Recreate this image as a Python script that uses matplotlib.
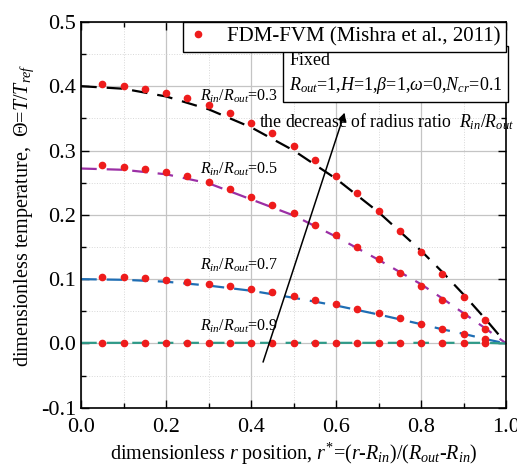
"""Dimensionless temperature along r* for several radius ratios, with FDM-FVM reference points."""

import matplotlib

matplotlib.use("Agg")
import matplotlib.pyplot as plt
from matplotlib.offsetbox import AnchoredText
from matplotlib.ticker import MultipleLocator

plt.rcParams["font.family"] = ["Liberation Serif", "DejaVu Serif"]
plt.rcParams["mathtext.fontset"] = "custom"
plt.rcParams["mathtext.rm"] = "Liberation Serif"
plt.rcParams["mathtext.it"] = "Liberation Serif:italic"

# present solution (dashed lines)
line_x = [0.0, 0.1, 0.2, 0.3, 0.4, 0.5, 0.6, 0.7, 0.8, 0.85, 0.9, 0.95, 1.0]
line_03 = [0.400, 0.396, 0.384, 0.364, 0.336, 0.300, 0.256, 0.204, 0.144, 0.111, 0.076, 0.039, 0.0]
line_05 = [0.272, 0.270, 0.263, 0.249, 0.224, 0.199, 0.166, 0.130, 0.092, 0.070, 0.047, 0.024, 0.0]
line_07 = [0.100, 0.099, 0.096, 0.090, 0.082, 0.071, 0.059, 0.045, 0.030, 0.022, 0.015, 0.007, 0.0]
line_09 = [0.001, 0.001, 0.001, 0.001, 0.001, 0.001, 0.001, 0.001, 0.001, 0.001, 0.001, 0.001, 0.0]

# FDM-FVM (Mishra et al., 2011)
ref_x = [0.05, 0.10, 0.15, 0.20, 0.25, 0.30, 0.35, 0.40, 0.45, 0.50,
         0.55, 0.60, 0.65, 0.70, 0.75, 0.80, 0.85, 0.90, 0.95]
ref_03 = [0.403, 0.401, 0.396, 0.390, 0.381, 0.371, 0.358, 0.343, 0.327, 0.307,
          0.285, 0.260, 0.234, 0.206, 0.175, 0.142, 0.108, 0.072, 0.036]
ref_05 = [0.277, 0.275, 0.272, 0.267, 0.260, 0.251, 0.240, 0.228, 0.216, 0.203,
          0.184, 0.168, 0.150, 0.131, 0.109, 0.089, 0.067, 0.045, 0.022]
ref_07 = [0.104, 0.103, 0.102, 0.099, 0.096, 0.093, 0.089, 0.085, 0.080, 0.074,
          0.067, 0.061, 0.054, 0.047, 0.039, 0.031, 0.023, 0.015, 0.007]
ref_09 = [0.0] * 19

ratios = ["0.3", "0.5", "0.7", "0.9"]
label_pos = [(0.28, 0.371), (0.28, 0.258), (0.28, 0.108), (0.28, 0.013)]

fig = plt.figure(figsize=(5.17, 4.65), dpi=100)
ax = fig.add_axes([0.157, 0.123, 0.822, 0.830])

ax.xaxis.set_major_locator(MultipleLocator(0.2))
ax.xaxis.set_minor_locator(MultipleLocator(0.1))
ax.yaxis.set_major_locator(MultipleLocator(0.1))
ax.yaxis.set_minor_locator(MultipleLocator(0.05))
ax.grid(True, which="major", color="#c4c4c4", linewidth=0.9)
ax.grid(True, which="minor", color="#d8d8d8", linewidth=0.7, linestyle=":")
ax.set_axisbelow(True)

dash = (0, (7, 4.5))
for ys, col in zip([line_03, line_05, line_07, line_09],
                   ["black", "#9b2fa5", "#1f6eb4", "#2f9a88"]):
    ax.plot(line_x, ys, color=col, linewidth=1.6, linestyle=dash, zorder=2)

for i, ys in enumerate([ref_03, ref_05, ref_07, ref_09]):
    ax.plot(ref_x, ys, "o", color="#ee1c1c", markersize=4.5, zorder=3,
            label="FDM-FVM (Mishra et al., 2011)" if i == 0 else None)

for r, (lx, ly) in zip(ratios, label_pos):
    ax.text(lx, ly, r"$R_{in}/R_{out}$=" + r, fontsize=11.5, va="bottom", ha="left")

ax.annotate("", xy=(0.622, 0.363), xytext=(0.426, -0.033),
            arrowprops=dict(arrowstyle="-|>", color="black", lw=1.1, mutation_scale=12))
ax.text(0.418, 0.328, r"the decrease of radius ratio  $R_{in}/R_{out}$", fontsize=12.8,
        va="bottom", ha="left", clip_on=False)

ax.set_xlim(0.0, 1.0)
ax.set_ylim(-0.1, 0.5)
ax.set_xticks([0.0, 0.2, 0.4, 0.6, 0.8, 1.0])
ax.set_xticklabels(["0.0", "0.2", "0.4", "0.6", "0.8", "1.0"])
ax.set_yticks([-0.1, 0.0, 0.1, 0.2, 0.3, 0.4, 0.5])
ax.set_yticklabels(["-0.1", "0.0", "0.1", "0.2", "0.3", "0.4", "0.5"])
ax.tick_params(which="both", direction="in", top=True, right=True, labelsize=16)
ax.tick_params(axis="x", which="major", pad=7)
ax.tick_params(which="major", length=6, width=1.0)
ax.tick_params(which="minor", length=3.5, width=1.0)
for s in ax.spines.values():
    s.set_linewidth(1.2)

ax.set_xlabel(r"dimensionless $r$ position, $r^{*}$=($r$-$R_{in}$)/($R_{out}$-$R_{in}$)",
              fontsize=14.5, labelpad=3)
ax.set_ylabel(r"dimensionless temperature,  $\Theta$=$T$/$T_{ref}$", fontsize=14.5)

leg = ax.legend(loc="upper right", bbox_to_anchor=(1.0, 1.0), borderaxespad=0,
                fontsize=15, fancybox=False, edgecolor="black", framealpha=1,
                handlelength=1.0, handletextpad=0.9, borderpad=0.25)
leg.get_frame().set_linewidth(1.0)

box = AnchoredText("Fixed\n$R_{out}$=1,$H$=1,$\\beta$=1,$\\omega$=0,$N_{cr}$=0.1",
                   loc="upper right", bbox_to_anchor=(1.0, 0.932),
                   bbox_transform=ax.transAxes, borderpad=0, pad=0.2, frameon=True,
                   prop=dict(size=13, linespacing=1.45))
box.patch.set_boxstyle("square,pad=0.12")
box.patch.set_edgecolor("black")
ax.add_artist(box)

fig.savefig("out.png", dpi=100)
